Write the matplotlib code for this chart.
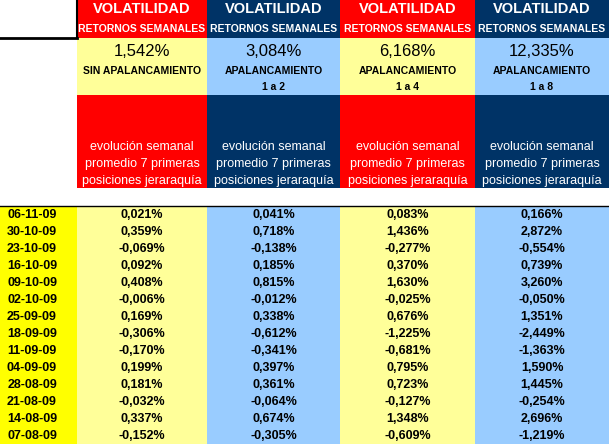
import matplotlib.pyplot as plt
from matplotlib.patches import Rectangle

dates = ["06-11-09", "30-10-09", "23-10-09", "16-10-09", "09-10-09", "02-10-09", "25-09-09",
         "18-09-09", "11-09-09", "04-09-09", "28-08-09", "21-08-09", "14-08-09", "07-08-09"]
vol = ["1,542%", "3,084%", "6,168%", "12,335%"]
leverage = [["SIN APALANCAMIENTO"], ["APALANCAMIENTO", "1 a 2"],
            ["APALANCAMIENTO", "1 a 4"], ["APALANCAMIENTO", "1 a 8"]]
s1 = ["0,021%", "0,359%", "-0,069%", "0,092%", "0,408%", "-0,006%", "0,169%",
      "-0,306%", "-0,170%", "0,199%", "0,181%", "-0,032%", "0,337%", "-0,152%"]
s2 = ["0,041%", "0,718%", "-0,138%", "0,185%", "0,815%", "-0,012%", "0,338%",
      "-0,612%", "-0,341%", "0,397%", "0,361%", "-0,064%", "0,674%", "-0,305%"]
s3 = ["0,083%", "1,436%", "-0,277%", "0,370%", "1,630%", "-0,025%", "0,676%",
      "-1,225%", "-0,681%", "0,795%", "0,723%", "-0,127%", "1,348%", "-0,609%"]
s4 = ["0,166%", "2,872%", "-0,554%", "0,739%", "3,260%", "-0,050%", "1,351%",
      "-2,449%", "-1,363%", "1,590%", "1,445%", "-0,254%", "2,696%", "-1,219%"]
series = [s1, s2, s3, s4]

RED, NAVY = "#FF0000", "#003366"
LYEL, LBLUE, YEL = "#FFFF99", "#99CCFF", "#FFFF00"
dark = [RED, NAVY, RED, NAVY]
light = [LYEL, LBLUE, LYEL, LBLUE]
col_x = [77, 207, 340, 475, 609]
row_top, row_h = 206, 17

fig = plt.figure(figsize=(6.09, 4.44), dpi=100)
ax = fig.add_axes([0, 0, 1, 1])
ax.set_xlim(0, 609)
ax.set_ylim(444, 0)
ax.axis("off")

font = "Liberation Sans"
for i in range(4):
    x0, x1 = col_x[i], col_x[i + 1]
    w, xc = x1 - x0, (x0 + x1) / 2
    ax.add_patch(Rectangle((x0, 0), w, 38, color=dark[i], lw=0))
    ax.add_patch(Rectangle((x0, 38), w, 57, color=light[i], lw=0))
    ax.add_patch(Rectangle((x0, 95), w, 93, color=dark[i], lw=0))
    ax.add_patch(Rectangle((x0, row_top), w, 444 - row_top, color=light[i], lw=0))
    ax.text(xc, 9, "VOLATILIDAD", color="white", ha="center", va="center",
            fontsize=10.5, fontweight="bold", family=font)
    ax.text(xc, 29, "RETORNOS SEMANALES", color="white", ha="center", va="center",
            fontsize=7.5, fontweight="bold", family=font)
    ax.text(xc, 51, vol[i], color="black", ha="center", va="center", fontsize=12, family=font)
    for k, line in enumerate(leverage[i]):
        ax.text(xc, 71 + k * 16, line, color="black", ha="center", va="center",
                fontsize=7.5, fontweight="bold", family=font)
    for k, line in enumerate(["evolución semanal", "promedio 7 primeras",
                              "posiciones jeraraquía"]):
        ax.text(xc, 147 + k * 17, line, color="white", ha="center", va="center",
                fontsize=9, family=font)
    for r, v in enumerate(series[i]):
        ax.text(xc, row_top + (r + 0.5) * row_h, v, ha="center", va="center",
                fontsize=9, fontweight="bold", family=font)

ax.add_patch(Rectangle((0, row_top), 77, 444 - row_top, color=YEL, lw=0))
for r, d in enumerate(dates):
    ax.text(32, row_top + (r + 0.5) * row_h, d, ha="center", va="center",
            fontsize=9, fontweight="bold", family=font)

ax.plot([0, 77], [38, 38], color="black", lw=2)
ax.plot([77, 77], [0, 38], color="black", lw=1.5)
ax.plot([0, 609], [205.5, 205.5], color="black", lw=1)

fig.savefig("out.png", dpi=100)
